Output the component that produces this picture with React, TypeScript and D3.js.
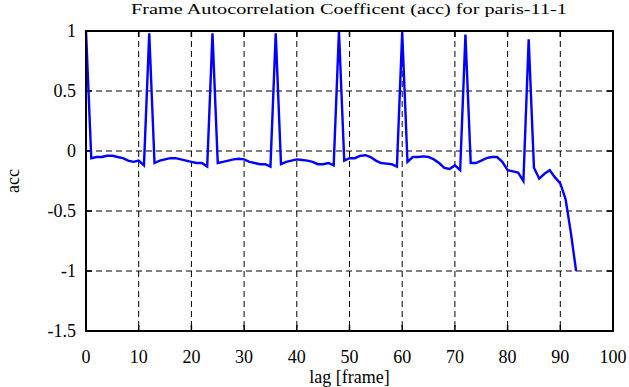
import React from "react"
import * as d3 from "d3"

// lag 0..93, one value per frame
const acc: number[] = [
  1.0, -0.06, -0.05, -0.05, -0.04, -0.04, -0.05, -0.06, -0.08, -0.09, -0.08, -0.12,
  0.98, -0.1, -0.08, -0.07, -0.06, -0.06, -0.07, -0.08, -0.09, -0.1, -0.1, -0.13,
  0.98, -0.1, -0.09, -0.08, -0.07, -0.065, -0.07, -0.09, -0.1, -0.11, -0.11, -0.13,
  0.98, -0.11, -0.09, -0.08, -0.07, -0.075, -0.08, -0.09, -0.11, -0.11, -0.1, -0.12,
  1.0, -0.08, -0.06, -0.06, -0.04, -0.035, -0.05, -0.08, -0.1, -0.105, -0.11, -0.13,
  0.99, -0.09, -0.05, -0.05, -0.045, -0.05, -0.07, -0.1, -0.14, -0.15, -0.12, -0.16,
  0.97, -0.1, -0.1, -0.08, -0.06, -0.05, -0.05, -0.09, -0.16, -0.17, -0.18, -0.25,
  0.93, -0.14, -0.23, -0.19, -0.16, -0.22, -0.27, -0.4, -0.68, -1.0,
]
const xTicks = [0, 10, 20, 30, 40, 50, 60, 70, 80, 90, 100]
const yTicks = [1, 0.5, 0, -0.5, -1, -1.5]
const title = "Frame Autocorrelation Coefficent (acc) for paris-11-1"

const W = 629
const H = 387
const margin = { top: 31, right: 16, bottom: 56, left: 86 }
const font = "'Liberation Serif', 'DejaVu Serif', serif"

export default function App() {
  const x = d3.scaleLinear().domain([0, 100]).range([margin.left, W - margin.right])
  const y = d3.scaleLinear().domain([-1.5, 1]).range([H - margin.bottom, margin.top])
  const x0 = x(0), x1 = x(100), y0 = y(-1.5), y1 = y(1)

  const line = d3
    .line<number>()
    .x((_, i) => x(i))
    .y(d => y(d))

  return (
    <svg width={W} height={H} style={{ position: "absolute", left: 0, top: 0, background: "#fff" }}>
      {/* grid */}
      {xTicks.slice(1, -1).map(t => (
        <line key={"gx" + t} x1={x(t)} x2={x(t)} y1={y1} y2={y0} stroke="#000" strokeWidth={1} strokeDasharray="6,4" />
      ))}
      {yTicks.slice(1, -1).map(t => (
        <line key={"gy" + t} x1={x0} x2={x1} y1={y(t)} y2={y(t)} stroke="#000" strokeWidth={1} strokeDasharray="6,4" />
      ))}

      {/* ticks, inward on every side */}
      {xTicks.map(t => (
        <g key={"tx" + t}>
          <line x1={x(t)} x2={x(t)} y1={y0} y2={y0 - 6} stroke="#000" strokeWidth={1.5} />
          <line x1={x(t)} x2={x(t)} y1={y1} y2={y1 + 6} stroke="#000" strokeWidth={1.5} />
        </g>
      ))}
      {yTicks.map(t => (
        <g key={"ty" + t}>
          <line x1={x0} x2={x0 + 6} y1={y(t)} y2={y(t)} stroke="#000" strokeWidth={1.5} />
          <line x1={x1} x2={x1 - 6} y1={y(t)} y2={y(t)} stroke="#000" strokeWidth={1.5} />
        </g>
      ))}

      <path d={line(acc) || ""} fill="none" stroke="#0000ff" strokeWidth={2.4} strokeLinejoin="miter" />

      {/* frame */}
      <rect x={x0} y={y1} width={x1 - x0} height={y0 - y1} fill="none" stroke="#000" strokeWidth={2} />

      {/* tick labels */}
      {xTicks.map(t => (
        <text key={"lx" + t} x={x(t)} y={y0 + 32} textAnchor="middle" fontFamily={font} fontSize={18}>
          {t}
        </text>
      ))}
      {yTicks.map(t => (
        <text key={"ly" + t} x={x0 - 10} y={y(t) + 6} textAnchor="end" fontFamily={font} fontSize={18}>
          {t}
        </text>
      ))}

      <text x={131} y={14} fontFamily={font} fontSize={15} textLength={436} lengthAdjust="spacingAndGlyphs">
        {title}
      </text>
      <text x={(x0 + x1) / 2} y={383} textAnchor="middle" fontFamily={font} fontSize={18}>
        lag [frame]
      </text>
      <text transform={`translate(19,${(y0 + y1) / 2}) rotate(-90)`} textAnchor="middle" fontFamily={font} fontSize={18}>
        acc
      </text>
    </svg>
  )
}
